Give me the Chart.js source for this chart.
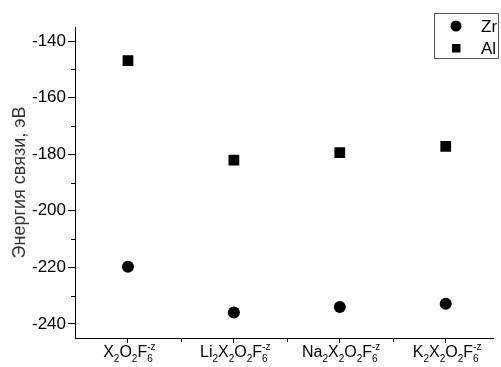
<!DOCTYPE html>
<html>
<head>
<meta charset="utf-8">
<script src="https://cdn.jsdelivr.net/npm/chart.js@4"></script>
<style>
  html, body { margin: 0; padding: 0; background: #fff; }
  #wrap { width: 501px; height: 367px; }
</style>
</head>
<body>
<div id="wrap"><canvas id="c" width="501" height="367"></canvas></div>
<script>
// categories: "_" = next char is subscript, "^{..}" = superscript
const categories = ["X_2O_2F_6^{-z}", "Li_2X_2O_2F_6^{-z}", "Na_2X_2O_2F_6^{-z}", "K_2X_2O_2F_6^{-z}"];
const zrValues = [-219.8, -236.0, -234.0, -232.9];
const alValues = [-146.9, -182.1, -179.4, -177.2];
const yTicks = [-240, -220, -200, -180, -160, -140];
const yMinorTicks = [-230, -210, -190, -170, -150];
const yTitle = "Энергия связи, эВ";
const FONT = "'Liberation Sans', Arial, sans-serif";

function drawFormula(ctx, text, cx, y, size) {
  // split into runs: normal / sub / sup
  const runs = [];
  let i = 0;
  while (i < text.length) {
    const ch = text[i];
    if (ch === "_") { runs.push({ t: text[i + 1], k: "sub" }); i += 2; }
    else if (ch === "^") {
      const end = text.indexOf("}", i);
      runs.push({ t: text.slice(i + 2, end), k: "sup" }); i = end + 1;
    } else { runs.push({ t: ch, k: "n" }); i++; }
  }
  const small = Math.round(size * 0.6);
  let w = 0;
  runs.forEach(r => {
    ctx.font = (r.k === "n" ? size : small) + "px " + FONT;
    r.w = ctx.measureText(r.t).width;
  });
  // sup sits over the last sub, so it does not add width after it
  for (let j = 0; j < runs.length; j++) {
    const r = runs[j];
    if (r.k === "sup" && j > 0 && runs[j - 1].k === "sub") { r.over = true; continue; }
    w += r.w;
  }
  let x = cx - w / 2;
  let lastX = x;
  ctx.textBaseline = "alphabetic";
  ctx.textAlign = "left";
  ctx.fillStyle = "#000";
  runs.forEach((r, j) => {
    ctx.font = (r.k === "n" ? size : small) + "px " + FONT;
    if (r.k === "n") { ctx.fillText(r.t, x, y); lastX = x; x += r.w; }
    else if (r.k === "sub") { ctx.fillText(r.t, x, y + size * 0.3); lastX = x; x += r.w; }
    else {
      const sx = r.over ? lastX : x;
      ctx.fillText(r.t, sx, y - size * 0.45);
      if (!r.over) x += r.w;
    }
  });
}

const extras = {
  id: "extras",
  afterDraw(chart) {
    const ctx = chart.ctx;
    const xs = chart.scales.x, ys = chart.scales.y;
    ctx.save();
    // minor ticks
    ctx.strokeStyle = "#000";
    ctx.lineWidth = 1;
    ctx.beginPath();
    yMinorTicks.forEach(v => {
      const py = Math.round(ys.getPixelForValue(v)) + 0.5;
      ctx.moveTo(xs.left - 4, py); ctx.lineTo(xs.left, py);
    });
    [0.5, 1.5, 2.5].forEach(v => {
      const px = Math.round(xs.getPixelForValue(v)) + 0.5;
      ctx.moveTo(px, ys.bottom); ctx.lineTo(px, ys.bottom + 4);
    });
    ctx.stroke();
    // category labels
    categories.forEach((c, i) => {
      drawFormula(ctx, c, xs.getPixelForValue(i), 357, 16);
    });
    // legend
    ctx.strokeStyle = "#555";
    ctx.strokeRect(434.5, 13.5, 64, 45);
    ctx.fillStyle = "#000";
    ctx.beginPath();
    ctx.arc(456, 26, 5.5, 0, Math.PI * 2);
    ctx.fill();
    ctx.fillRect(452, 44, 8.5, 8.5);
    ctx.font = "17px " + FONT;
    ctx.textBaseline = "middle";
    ctx.textAlign = "left";
    chart.data.datasets.forEach((d, i) => {
      ctx.fillText(d.label, 481, i === 0 ? 27 : 49);
    });
    ctx.restore();
  }
};

new Chart(document.getElementById("c"), {
  type: "scatter",
  data: {
    datasets: [
      {
        label: "Zr",
        data: zrValues.map((v, i) => ({ x: i, y: v })),
        pointStyle: "circle",
        pointRadius: 6,
        backgroundColor: "#000",
        borderColor: "#000",
        borderWidth: 0
      },
      {
        label: "Al",
        data: alValues.map((v, i) => ({ x: i, y: v })),
        pointStyle: "rect",
        pointRadius: 7.6,
        backgroundColor: "#000",
        borderColor: "#000",
        borderWidth: 0
      }
    ]
  },
  options: {
    responsive: false,
    animation: false,
    layout: { padding: { top: 27, right: 0, left: 0, bottom: 0 } },
    plugins: { legend: { display: false }, tooltip: { enabled: false } },
    scales: {
      x: {
        type: "linear",
        min: -0.5,
        max: 3.45,
        afterBuildTicks: s => { s.ticks = categories.map((c, i) => ({ value: i })); },
        afterFit: s => { s.height = 29; },
        ticks: { display: false },
        grid: { drawOnChartArea: false, drawTicks: true, tickLength: 5, color: "#000" },
        border: { display: true, color: "#000", width: 1 }
      },
      y: {
        min: -245,
        max: -135,
        afterBuildTicks: s => { s.ticks = yTicks.map(v => ({ value: v })); },
        afterFit: s => { s.width = 75; },
        ticks: {
          color: "#000",
          padding: 2,
          font: { family: FONT, size: 17 },
          callback: v => String(v)
        },
        title: {
          display: true,
          text: yTitle,
          color: "#333",
          padding: { top: 9, bottom: 0 },
          font: { family: FONT, size: 18 }
        },
        grid: { drawOnChartArea: false, drawTicks: true, tickLength: 7, color: "#000" },
        border: { display: true, color: "#000", width: 1 }
      }
    }
  },
  plugins: [extras]
});
</script>
</body>
</html>
